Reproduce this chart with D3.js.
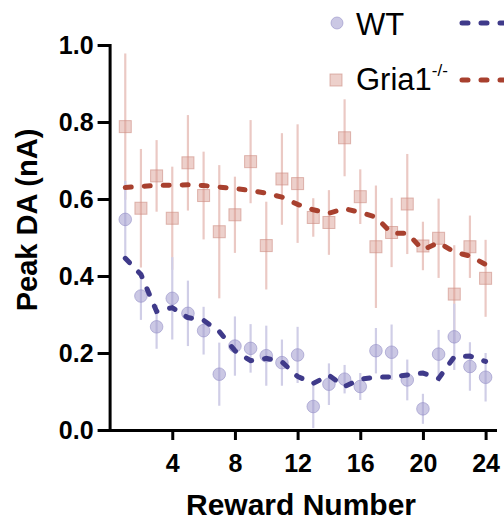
<!DOCTYPE html>
<html>
<head>
<meta charset="utf-8">
<script src="https://cdn.jsdelivr.net/npm/d3@7"></script>
<style>
  body { margin: 0; background: #fff; }
  svg { display: block; font-family: "Liberation Sans", Arial, sans-serif; }
  .axis path, .axis line { stroke: #000; stroke-width: 3; }
  .axis text { font-size: 25px; font-weight: bold; fill: #000; }
</style>
</head>
<body>
<div id="chart"></div>
<script>
// reward index 1..24
var rewards = d3.range(1, 25);

// peak DA (nA)
var wtMean = [0.547, 0.348, 0.268, 0.342, 0.303, 0.258, 0.145, 0.218, 0.212, 0.193, 0.175, 0.195,
              0.061, 0.119, 0.132, 0.113, 0.206, 0.202, 0.130, 0.055, 0.197, 0.242, 0.165, 0.137];
var wtErr = [0.100, 0.062, 0.057, 0.107, 0.085, 0.062, 0.082, 0.077, 0.063, 0.078, 0.060, 0.073,
             0.056, 0.054, 0.037, 0.035, 0.059, 0.072, 0.053, 0.039, 0.063, 0.086, 0.063, 0.063];
var wtTrend = [0.446, 0.404, 0.308, 0.318, 0.292, 0.285, 0.256, 0.206, 0.180, 0.186, 0.177, 0.139,
               0.121, 0.142, 0.113, 0.132, 0.137, 0.138, 0.143, 0.148, 0.134, 0.190, 0.192, 0.178];

var koMean = [0.788, 0.576, 0.660, 0.550, 0.694, 0.609, 0.515, 0.559, 0.697, 0.479, 0.652, 0.640,
              0.552, 0.539, 0.759, 0.606, 0.476, 0.513, 0.587, 0.478, 0.498, 0.353, 0.476, 0.394];
var koErr = [0.190, 0.154, 0.093, 0.134, 0.124, 0.114, 0.173, 0.099, 0.108, 0.114, 0.119, 0.154,
             0.050, 0.084, 0.100, 0.071, 0.159, 0.090, 0.130, 0.063, 0.103, 0.127, 0.081, 0.100];
var koTrend = [0.630, 0.633, 0.635, 0.636, 0.637, 0.635, 0.631, 0.627, 0.622, 0.615, 0.605, 0.586,
               0.572, 0.563, 0.575, 0.565, 0.553, 0.511, 0.511, 0.468, 0.487, 0.462, 0.452, 0.430];

var xTicks = [4, 8, 12, 16, 20, 24];
var yTicks = [0, 0.2, 0.4, 0.6, 0.8, 1.0];

var width = 504, height = 522;

var svg = d3.select('#chart').append('svg')
  .attr('width', width)
  .attr('height', height);

var x = d3.scaleLinear().domain([0, 24.6]).range([109.6, 495]);
var y = d3.scaleLinear().domain([0, 1]).range([430, 45]);

var groups = [
  { name: 'ko', mean: koMean, err: koErr, trend: koTrend, shape: 'square',
    bar: '#ebc9c4', fill: 'rgba(214,150,140,0.45)', stroke: 'rgba(205,140,130,0.6)', line: '#a8402e' },
  { name: 'wt', mean: wtMean, err: wtErr, trend: wtTrend, shape: 'circle',
    bar: '#d0cee7', fill: 'rgba(160,155,205,0.55)', stroke: 'rgba(150,145,200,0.6)', line: '#3f3a8a' }
];

var plot = svg.append('g');

// error bars first, then markers
groups.forEach(function (g) {
  plot.append('g').selectAll('line')
    .data(rewards)
    .enter().append('line')
    .attr('x1', function (d) { return x(d); })
    .attr('x2', function (d) { return x(d); })
    .attr('y1', function (d, i) { return y(g.mean[i] + g.err[i]); })
    .attr('y2', function (d, i) { return y(g.mean[i] - g.err[i]); })
    .style('stroke', g.bar)
    .style('stroke-width', 2.2);
});

groups.forEach(function (g) {
  var m = plot.append('g');
  if (g.shape === 'circle') {
    m.selectAll('circle').data(rewards).enter().append('circle')
      .attr('cx', function (d) { return x(d); })
      .attr('cy', function (d, i) { return y(g.mean[i]); })
      .attr('r', 6.3)
      .style('fill', g.fill)
      .style('stroke', g.stroke)
      .style('stroke-width', 1);
  } else {
    m.selectAll('rect').data(rewards).enter().append('rect')
      .attr('x', function (d) { return x(d) - 6; })
      .attr('y', function (d, i) { return y(g.mean[i]) - 6; })
      .attr('width', 12)
      .attr('height', 12)
      .style('fill', g.fill)
      .style('stroke', g.stroke)
      .style('stroke-width', 1);
  }
});

// dashed trend lines
groups.forEach(function (g) {
  var line = d3.line()
    .x(function (d) { return x(d); })
    .y(function (d, i) { return y(g.trend[i]); });
  plot.append('path')
    .datum(rewards)
    .attr('d', line)
    .style('fill', 'none')
    .style('stroke', g.line)
    .style('stroke-width', 5)
    .style('stroke-linecap', 'round')
    .style('stroke-dasharray', '6,13');
});

// axes
var xAxis = svg.append('g')
  .attr('class', 'axis')
  .attr('transform', 'translate(0,' + y(0) + ')')
  .call(d3.axisBottom(x).tickValues(xTicks).tickSize(10).tickSizeOuter(0).tickPadding(14));
xAxis.selectAll('text').attr('dy', '0.71em');

var yAxis = svg.append('g')
  .attr('class', 'axis')
  .attr('transform', 'translate(' + x(0) + ',0)')
  .call(d3.axisLeft(y).tickValues(yTicks).tickSize(12).tickSizeOuter(0).tickPadding(4)
    .tickFormat(d3.format('.1f')));

svg.selectAll('.axis .domain').style('stroke-linecap', 'square');

// axis titles
svg.append('text')
  .attr('x', 301)
  .attr('y', 515)
  .attr('text-anchor', 'middle')
  .style('font-size', '30px')
  .style('font-weight', 'bold')
  .text('Reward Number');

svg.append('text')
  .attr('transform', 'translate(37,220) rotate(-90)')
  .attr('text-anchor', 'middle')
  .style('font-size', '29px')
  .style('font-weight', 'bold')
  .text('Peak DA (nA)');

// legend (runs off the right edge like the original)
var legend = svg.append('g');

legend.append('circle')
  .attr('cx', 337).attr('cy', 23).attr('r', 6)
  .style('fill', groups[1].fill).style('stroke', groups[1].stroke);
legend.append('text')
  .attr('x', 356).attr('y', 35)
  .style('font-size', '31px')
  .text('WT');
legend.append('line')
  .attr('x1', 462).attr('x2', 530).attr('y1', 23).attr('y2', 23)
  .style('stroke', groups[1].line).style('stroke-width', 5)
  .style('stroke-linecap', 'round').style('stroke-dasharray', '6,13');

legend.append('rect')
  .attr('x', 330).attr('y', 74).attr('width', 12).attr('height', 12)
  .style('fill', groups[0].fill).style('stroke', groups[0].stroke);
var gt = legend.append('text')
  .attr('x', 356).attr('y', 90)
  .style('font-size', '31px')
  .text('Gria1');
gt.append('tspan')
  .attr('dy', -14)
  .style('font-size', '17px')
  .text('-/-');
legend.append('line')
  .attr('x1', 462).attr('x2', 530).attr('y1', 80).attr('y2', 80)
  .style('stroke', groups[0].line).style('stroke-width', 5)
  .style('stroke-linecap', 'round').style('stroke-dasharray', '6,13');
</script>
</body>
</html>
